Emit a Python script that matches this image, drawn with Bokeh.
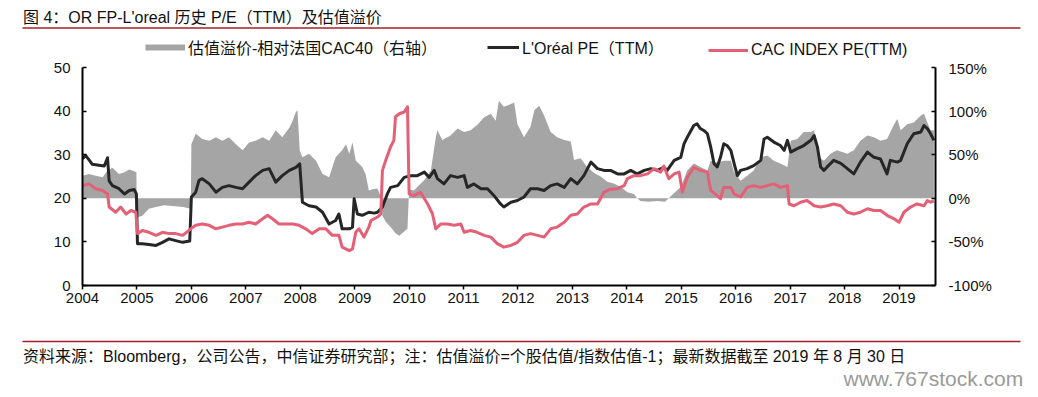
from bokeh.plotting import figure
from bokeh.layouts import column
from bokeh.models import (Range1d, LinearAxis, FixedTicker, PrintfTickFormatter,
                          Legend, LegendItem)
from bokeh.core.properties import value
from bokeh.embed import file_html
from bokeh.resources import INLINE

# ---------------- data ----------------
year_ticks = list(range(2004, 2020))
pe_ticks = [0, 10, 20, 30, 40, 50]
pct_ticks = [-100, -50, 0, 50, 100, 150]

loreal_year = [2004.00, 2004.06, 2004.12, 2004.18, 2004.30, 2004.40, 2004.46, 2004.49, 2004.55, 2004.67,
               2004.77, 2004.86, 2004.95, 2004.99, 2005.01, 2005.10, 2005.22, 2005.35, 2005.47, 2005.59,
               2005.71, 2005.84, 2005.97, 2006.00, 2006.08, 2006.14, 2006.20, 2006.33, 2006.45, 2006.57,
               2006.69, 2006.82, 2006.94, 2007.06, 2007.18, 2007.31, 2007.43, 2007.55, 2007.67, 2007.80,
               2007.92, 2007.99, 2008.04, 2008.16, 2008.29, 2008.41, 2008.53, 2008.65, 2008.71, 2008.77,
               2008.90, 2008.96, 2008.99, 2009.05, 2009.14, 2009.26, 2009.36, 2009.42, 2009.51, 2009.60,
               2009.66, 2009.79, 2009.91, 2010.03, 2010.15, 2010.28, 2010.37, 2010.46, 2010.52, 2010.64,
               2010.76, 2010.89, 2011.01, 2011.07, 2011.19, 2011.32, 2011.44, 2011.56, 2011.68, 2011.74,
               2011.87, 2011.99, 2012.11, 2012.23, 2012.36, 2012.48, 2012.60, 2012.72, 2012.85, 2012.97,
               2013.09, 2013.21, 2013.34, 2013.46, 2013.58, 2013.70, 2013.83, 2013.95, 2014.07, 2014.19,
               2014.32, 2014.44, 2014.56, 2014.68, 2014.74, 2014.87, 2014.99, 2015.05, 2015.11, 2015.23,
               2015.29, 2015.35, 2015.42, 2015.48, 2015.54, 2015.60, 2015.66, 2015.72, 2015.78, 2015.84,
               2015.91, 2015.97, 2016.03, 2016.09, 2016.21, 2016.33, 2016.46, 2016.52, 2016.58, 2016.70,
               2016.82, 2016.89, 2016.95, 2017.01, 2017.13, 2017.25, 2017.38, 2017.44, 2017.50, 2017.56,
               2017.62, 2017.68, 2017.80, 2017.93, 2018.05, 2018.17, 2018.29, 2018.42, 2018.54, 2018.66,
               2018.78, 2018.84, 2018.97, 2019.03, 2019.15, 2019.27, 2019.40, 2019.46, 2019.52, 2019.58,
               2019.64]
loreal_pe = [29.1, 29.8, 28.8, 27.8, 27.6, 27.4, 29.3, 24.0, 22.9, 22.2,
             21.0, 21.8, 22.0, 21.0, 9.6, 9.6, 9.4, 9.2, 9.9, 10.7,
             10.3, 9.9, 10.2, 20.3, 21.4, 24.1, 24.5, 23.3, 21.4, 22.5,
             22.9, 22.5, 22.2, 23.7, 25.2, 26.4, 26.8, 23.7, 25.2, 26.4,
             27.1, 27.9, 19.1, 18.3, 18.0, 16.8, 14.1, 14.9, 16.4, 13.0,
             13.0, 13.4, 19.9, 16.4, 16.1, 16.8, 16.6, 16.8, 18.0, 21.0,
             22.5, 22.9, 24.8, 25.2, 25.2, 26.0, 24.8, 26.4, 24.5, 23.3,
             25.2, 24.8, 25.2, 22.5, 23.3, 22.2, 22.2, 20.6, 18.7, 18.0,
             19.1, 19.5, 20.3, 22.2, 22.2, 21.8, 22.9, 23.3, 22.5, 24.5,
             23.3, 25.2, 28.3, 26.8, 26.4, 26.4, 25.6, 25.6, 26.4, 25.6,
             26.4, 26.8, 26.4, 27.1, 26.4, 28.7, 29.4, 32.5, 34.0, 36.7,
             37.1, 36.0, 35.5, 34.8, 31.8, 28.0, 27.2, 29.4, 32.5, 32.1,
             31.0, 28.0, 25.2, 26.4, 26.8, 27.5, 28.7, 33.6, 34.0, 32.9,
             32.1, 31.0, 33.3, 30.6, 31.4, 32.1, 33.3, 34.4, 31.8, 27.2,
             26.4, 27.2, 28.7, 28.0, 26.8, 25.6, 28.3, 30.6, 29.4, 29.0,
             25.6, 28.7, 28.3, 28.7, 32.5, 34.8, 35.2, 36.7, 36.0, 34.8,
             33.3]

cac_year = [2004.00, 2004.12, 2004.24, 2004.37, 2004.46, 2004.49, 2004.61, 2004.70, 2004.80, 2004.89,
            2004.98, 2005.01, 2005.10, 2005.22, 2005.35, 2005.47, 2005.59, 2005.71, 2005.84, 2005.99,
            2006.08, 2006.20, 2006.33, 2006.45, 2006.57, 2006.69, 2006.82, 2006.94, 2007.06, 2007.18,
            2007.31, 2007.40, 2007.49, 2007.61, 2007.73, 2007.86, 2007.98, 2008.10, 2008.22, 2008.35,
            2008.47, 2008.59, 2008.71, 2008.77, 2008.90, 2008.96, 2009.02, 2009.08, 2009.17, 2009.26,
            2009.30, 2009.42, 2009.48, 2009.51, 2009.57, 2009.66, 2009.72, 2009.75, 2009.82, 2009.91,
            2009.97, 2010.00, 2010.09, 2010.21, 2010.34, 2010.43, 2010.49, 2010.58, 2010.70, 2010.83,
            2010.95, 2011.01, 2011.13, 2011.25, 2011.38, 2011.50, 2011.62, 2011.74, 2011.87, 2011.99,
            2012.11, 2012.23, 2012.36, 2012.48, 2012.60, 2012.72, 2012.85, 2012.97, 2013.09, 2013.21,
            2013.34, 2013.46, 2013.58, 2013.70, 2013.83, 2013.95, 2014.01, 2014.13, 2014.25, 2014.38,
            2014.50, 2014.62, 2014.68, 2014.77, 2014.87, 2014.96, 2015.02, 2015.11, 2015.23, 2015.35,
            2015.48, 2015.54, 2015.66, 2015.72, 2015.78, 2015.91, 2015.97, 2016.09, 2016.21, 2016.33,
            2016.46, 2016.58, 2016.70, 2016.82, 2016.95, 2016.98, 2017.07, 2017.19, 2017.31, 2017.44,
            2017.56, 2017.68, 2017.80, 2017.93, 2018.05, 2018.17, 2018.29, 2018.42, 2018.54, 2018.66,
            2018.78, 2018.91, 2019.00, 2019.09, 2019.21, 2019.33, 2019.46, 2019.52, 2019.58, 2019.64]
cac_pe = [22.9, 23.3, 22.2, 21.8, 21.0, 18.0, 16.8, 18.0, 16.4, 17.2,
          16.8, 11.9, 12.6, 12.2, 11.5, 12.2, 11.9, 11.9, 11.5, 13.0,
          13.8, 14.1, 13.8, 13.0, 13.4, 13.8, 14.1, 14.1, 14.5, 14.1,
          15.3, 16.1, 15.3, 14.1, 14.1, 14.1, 13.8, 13.0, 11.9, 13.0,
          13.0, 11.5, 11.5, 8.8, 8.0, 8.4, 12.2, 13.0, 11.1, 13.4,
          14.9, 15.7, 16.4, 26.4, 28.7, 31.8, 33.3, 38.7, 39.4, 39.8,
          41.0, 21.0, 20.6, 21.4, 18.7, 16.4, 13.0, 14.1, 14.1, 13.8,
          14.1, 12.2, 12.6, 12.2, 11.5, 11.1, 9.6, 8.8, 9.2, 9.9,
          11.5, 11.9, 11.5, 11.1, 13.0, 13.4, 14.5, 16.1, 16.4, 18.0,
          18.7, 18.7, 21.4, 22.1, 22.2, 22.9, 24.5, 25.2, 25.2, 25.6,
          26.8, 26.0, 27.4, 24.5, 25.6, 26.0, 21.4, 24.8, 27.1, 26.4,
          26.0, 21.8, 20.6, 19.9, 22.5, 22.5, 21.0, 20.3, 22.5, 22.9,
          22.5, 22.9, 23.3, 22.5, 22.9, 18.7, 18.3, 19.1, 19.5, 18.3,
          18.0, 18.3, 18.7, 18.3, 16.8, 16.4, 16.8, 17.6, 17.2, 17.2,
          16.1, 15.3, 14.5, 16.8, 18.0, 18.7, 18.3, 19.5, 19.1, 19.4]

premium_year = [2004.00, 2004.12, 2004.24, 2004.37, 2004.46, 2004.55, 2004.67, 2004.77, 2004.86, 2004.95,
                2004.99, 2005.00, 2005.10, 2005.22, 2005.35, 2005.50, 2005.70, 2005.85, 2005.99, 2006.00,
                2006.08, 2006.20, 2006.33, 2006.45, 2006.57, 2006.69, 2006.82, 2006.94, 2007.06, 2007.18,
                2007.31, 2007.43, 2007.55, 2007.67, 2007.80, 2007.86, 2007.92, 2007.95, 2007.99, 2008.04,
                2008.16, 2008.29, 2008.41, 2008.53, 2008.65, 2008.77, 2008.84, 2008.90, 2008.96, 2009.02,
                2009.14, 2009.20, 2009.26, 2009.36, 2009.42, 2009.48, 2009.51, 2009.57, 2009.66, 2009.75,
                2009.82, 2009.91, 2009.97, 2010.00, 2010.09, 2010.15, 2010.28, 2010.40, 2010.49, 2010.52,
                2010.61, 2010.76, 2010.89, 2011.01, 2011.13, 2011.25, 2011.38, 2011.50, 2011.59, 2011.65,
                2011.74, 2011.87, 2011.93, 2011.99, 2012.11, 2012.23, 2012.30, 2012.39, 2012.48, 2012.60,
                2012.72, 2012.85, 2012.97, 2013.03, 2013.15, 2013.27, 2013.40, 2013.52, 2013.64, 2013.76,
                2013.89, 2014.01, 2014.13, 2014.19, 2014.25, 2014.40, 2014.55, 2014.70, 2014.85, 2014.99,
                2015.11, 2015.23, 2015.35, 2015.48, 2015.54, 2015.66, 2015.78, 2015.91, 2015.97, 2016.09,
                2016.21, 2016.33, 2016.46, 2016.58, 2016.70, 2016.82, 2016.95, 2017.01, 2017.13, 2017.25,
                2017.38, 2017.44, 2017.53, 2017.62, 2017.74, 2017.86, 2018.05, 2018.17, 2018.29, 2018.42,
                2018.54, 2018.66, 2018.78, 2018.91, 2018.97, 2019.03, 2019.15, 2019.27, 2019.40, 2019.46,
                2019.52, 2019.58, 2019.64]
premium_pct = [26, 28, 26, 24, 32, 35, 28, 30, 33, 31,
               30, -22, -20, -12, -10, -8, -9, -10, -12, 62,
               74, 68, 66, 70, 66, 70, 62, 55, 64, 66,
               70, 66, 78, 70, 81, 89, 99, 101, 55, 47,
               51, 43, 28, 24, 47, 55, 62, 51, 64, 43,
               36, 28, 9, 11, 11, 2, -20, -27, -33, -40,
               -43, -38, -35, 10, 9, 13, 21, 32, 70, 78,
               67, 72, 80, 76, 78, 84, 93, 97, 89, 112,
               105, 108, 110, 85, 70, 82, 101, 106, 95, 76,
               70, 67, 65, 44, 46, 36, 29, 25, 19, 17,
               13, 7, 5, 0, -3, -4, -3, -4, 5, 13,
               32, 40, 36, 32, 43, 41, 43, 43, 30, 20,
               26, 32, 47, 49, 43, 40, 36, 66, 68, 76,
               76, 78, 47, 43, 51, 55, 51, 55, 66, 72,
               70, 66, 68, 85, 91, 78, 85, 87, 95, 97,
               87, 78, 78]

legend_labels = ["估值溢价-相对法国CAC40（右轴）", "L'Oréal PE（TTM）", "CAC INDEX PE(TTM)"]
title_text = "图 4：OR FP-L'oreal 历史 P/E（TTM）及估值溢价"
source_text = "资料来源：Bloomberg，公司公告，中信证券研究部；注：估值溢价=个股估值/指数估值-1；最新数据截至 2019 年 8 月 30 日"
watermark_text = "www.767stock.com"

# ---------------- styles ----------------
W = 1030
GRAY = "#A5A5A5"
BLACK = "#262626"
PINK = "#E46076"
RED = "#A31F2A"
TXT = "#111111"
FONT = "Liberation Sans, Noto Sans CJK SC"


def blank_fig(height):
    f = figure(width=W, height=height, output_backend="svg", toolbar_location=None,
               x_range=Range1d(0, W), y_range=Range1d(height, 0),
               x_axis_type=None, y_axis_type=None, frame_align=False,
               min_border_left=0, min_border_right=0, min_border_top=0, min_border_bottom=0,
               background_fill_color="white", border_fill_color="white")
    f.outline_line_color = None
    f.grid.visible = False
    return f

# ---------------- header: title, rule, legend ----------------
HEAD_H = 59
head = blank_fig(HEAD_H)
head.text(x=[22.5], y=[16.5], text=[title_text], text_font=value(FONT), text_font_size="16px",
          text_baseline="middle", text_align="left", text_color=TXT)
head.segment(x0=[22], y0=[27.5], x1=[1020], y1=[27.5], line_color=RED, line_width=1.3)

# legend swatches: renderers whose data sit outside the header frame, so only legend glyphs show
sw_prem = head.line(x=[-60, -50], y=[-60, -60], line_color=GRAY, line_width=6, line_cap="butt")
sw_lor = head.line(x=[-60, -50], y=[-60, -60], line_color=BLACK, line_width=3, line_cap="butt")
sw_cac = head.line(x=[-60, -50], y=[-60, -60], line_color=PINK, line_width=3, line_cap="butt")


def make_legend(fig, label, rend, x, gw):
    lg = Legend(items=[LegendItem(label=label, renderers=[rend])], location=(x, 0),
                orientation="horizontal", border_line_color=None, background_fill_alpha=0,
                padding=0, margin=0, spacing=0, label_standoff=3, glyph_width=gw,
                glyph_height=16, label_height=16, label_text_font=FONT,
                label_text_font_size="16px", label_text_color=TXT)
    fig.add_layout(lg)

make_legend(head, legend_labels[0], sw_prem, 145, 40)
make_legend(head, legend_labels[1], sw_lor, 487, 32)
make_legend(head, legend_labels[2], sw_cac, 708, 40)

# ---------------- main chart ----------------
MAIN_H = 271
FRAME_LEFT, FRAME_RIGHT = 82, 935
p = figure(width=W, height=MAIN_H, output_backend="svg", toolbar_location=None,
           x_range=Range1d(2004, 2019.67), y_range=Range1d(0, 50), frame_align=False,
           min_border_left=FRAME_LEFT, min_border_right=W - FRAME_RIGHT,
           min_border_top=8, min_border_bottom=45,
           background_fill_color="white", border_fill_color="white")
p.extra_y_ranges = {"pct": Range1d(-100, 150)}
p.outline_line_color = None
p.grid.visible = False

p.varea(x=premium_year, y1=0, y2=premium_pct, y_range_name="pct", fill_color=GRAY, fill_alpha=1)
p.line(loreal_year, loreal_pe, line_color=BLACK, line_width=3, line_join="round")
p.line(cac_year, cac_pe, line_color=PINK, line_width=3, line_join="round")


def style_axis(ax):
    ax.axis_line_color = "black"
    ax.axis_line_width = 2
    ax.major_tick_line_color = "black"
    ax.major_tick_line_width = 1.5
    ax.minor_tick_line_color = None
    ax.major_label_text_font = FONT
    ax.major_label_text_font_size = "15px"
    ax.major_label_text_color = TXT

xa = p.xaxis[0]
style_axis(xa)
xa.ticker = FixedTicker(ticks=year_ticks)
xa.major_tick_in = 0
xa.major_tick_out = 4
xa.major_label_standoff = 3

ya = p.yaxis[0]
style_axis(ya)
ya.ticker = FixedTicker(ticks=pe_ticks)
ya.major_tick_in = 4
ya.major_tick_out = 0
ya.major_label_standoff = 12

ra = LinearAxis(y_range_name="pct", ticker=FixedTicker(ticks=pct_ticks),
                formatter=PrintfTickFormatter(format="%d%%"))
style_axis(ra)
ra.major_tick_in = 4
ra.major_tick_out = 0
ra.major_label_standoff = 13
p.add_layout(ra, "right")

# ---------------- footer: rule, source, watermark ----------------
FOOT_H = 65
foot = blank_fig(FOOT_H)
foot.segment(x0=[22], y0=[11], x1=[1020], y1=[11], line_color=RED, line_width=1.3)
foot.text(x=[22.5], y=[26], text=[source_text], text_font=value(FONT), text_font_size="16px",
          text_baseline="middle", text_align="left", text_color=TXT)
foot.text(x=[843], y=[48], text=[watermark_text], text_font=value("Liberation Sans"),
          text_font_size="21px", text_baseline="middle", text_align="left", text_color="#9a9a9a")

layout = column(head, p, foot, spacing=0)
open("out.html", "w").write(file_html(layout, INLINE))
